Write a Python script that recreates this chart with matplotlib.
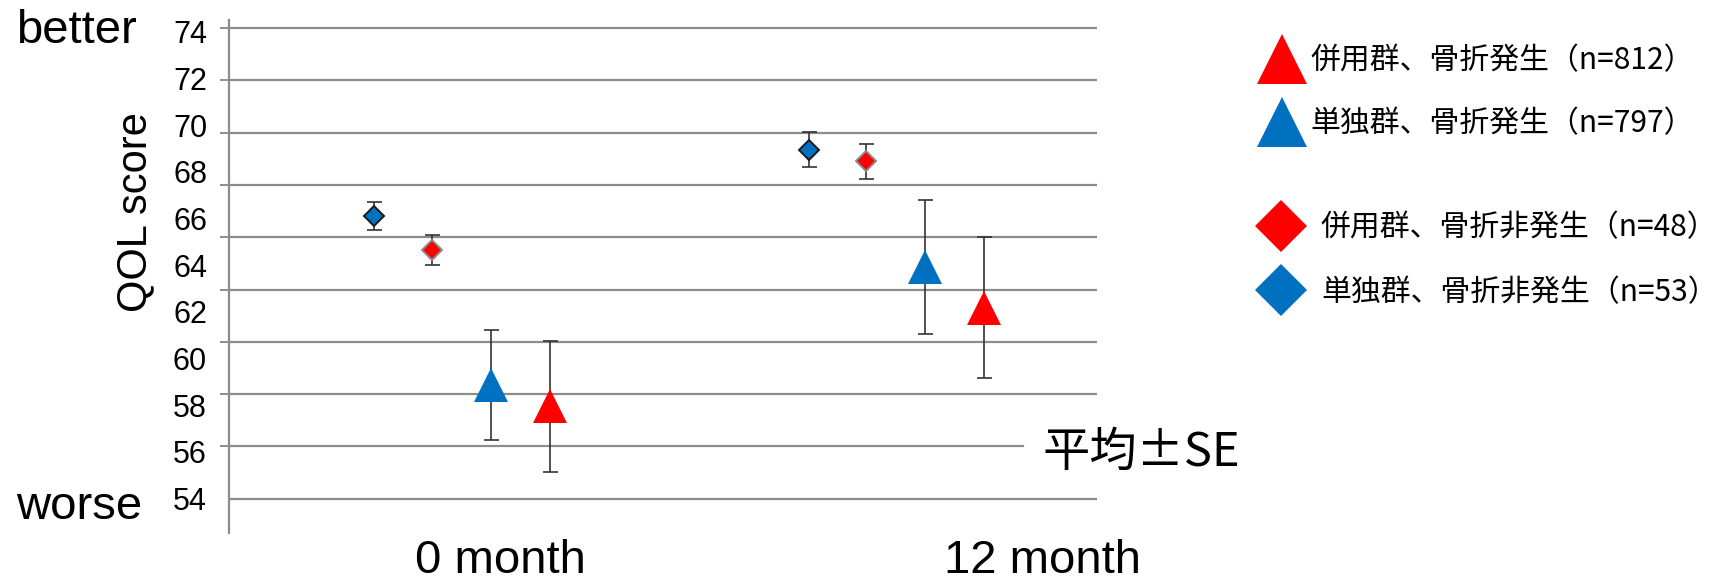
import numpy as np
import matplotlib.pyplot as plt
from matplotlib.lines import Line2D

# values (mean +- SE)
months = ['0 month', '12 month']
y_ticks = [54, 56, 58, 60, 62, 64, 66, 68, 70, 72, 74]

mean_blue_nonfx = [66.11, 68.94]   # 単独群、骨折非発生
se_blue_nonfx = [0.59, 0.74]
mean_red_nonfx = [64.66, 68.44]    # 併用群、骨折非発生
se_red_nonfx = [0.64, 0.75]
mean_blue_fx = [58.86, 63.94]      # 単独群、骨折発生
se_blue_fx = [2.36, 2.87]
mean_red_fx = [57.95, 62.18]       # 併用群、骨折発生
se_red_fx = [2.81, 3.03]

lab_red_fx = '併用群、骨折発生（n=812）'
lab_blue_fx = '単独群、骨折発生（n=797）'
lab_red_nonfx = '併用群、骨折非発生（n=48）'
lab_blue_nonfx = '単独群、骨折非発生（n=53）'

RED = '#ff0000'
BLUE = '#0070c0'
GRID = '#8c8c8c'
CJK = ['Noto Sans CJK JP', 'DejaVu Sans']
LAT = ['Liberation Sans', 'DejaVu Sans']

W, H = 1715, 581
fig = plt.figure(figsize=(W / 100, H / 100), dpi=100)
ax = fig.add_axes([228.6 / W, 1 - 533 / H, 868.4 / W, 513.3 / H])

ax.set_xlim(0, 2)
ax.set_ylim(52.53, 74.51)

# horizontal grid (spacing in the picture is not the label spacing)
grid_vals = np.linspace(54, 74.15, 10)
for i, g in enumerate(grid_vals):
    xmax = 0.915 if i == 1 else 1.0
    ax.axhline(g, xmin=0, xmax=xmax, color=GRID, lw=1.6, zorder=1)

ax.set_yticks(y_ticks)
ax.set_yticklabels([str(v) for v in y_ticks], fontsize=22, family=LAT)
ax.tick_params(axis='y', which='major', length=0, pad=15.5)
ax.set_yticks(grid_vals, minor=True)
ax.tick_params(axis='y', which='minor', length=6.5, width=1.4, color=GRID)
ax.set_xticks([])

for side in ['top', 'right', 'bottom']:
    ax.spines[side].set_visible(False)
ax.spines['left'].set_color(GRID)
ax.spines['left'].set_linewidth(1.6)

x = np.arange(len(months)) + 0.5
err_kw = dict(fmt='none', ecolor='#333333', elinewidth=1.2, capsize=5.4, capthick=1.2, zorder=3)

series = [
    (x - 0.164, mean_blue_nonfx, se_blue_nonfx, 'D', 10.5, BLUE, '#1a1a1a', 1.4),
    (x - 0.031, mean_red_nonfx, se_red_nonfx, 'D', 10.5, RED, '#8a8a8a', 1.4),
    (x + 0.105, mean_blue_fx, se_blue_fx, '^', 24, BLUE, BLUE, 0),
    (x + 0.240, mean_red_fx, se_red_fx, '^', 24, RED, RED, 0),
]
for xs, m, se, mk, ms, fc, ec, ew in series:
    ax.errorbar(xs, m, yerr=se, **err_kw)
    ax.plot(xs, m, ls='none', marker=mk, ms=ms, mfc=fc, mec=ec, mew=ew, zorder=4)

# text around the plot
fig.text(16 / W, 1 - 31 / H, 'better', fontsize=34, family=LAT, ha='left', va='center')
fig.text(16 / W, 1 - 507 / H, 'worse', fontsize=34, family=LAT, ha='left', va='center')
fig.text(135 / W, 1 - 212 / H, 'QOL score', fontsize=30, family=LAT, rotation=90,
         ha='center', va='center')
for m, cx in zip(months, [500, 1043]):
    fig.text(cx / W, 1 - 561 / H, m, fontsize=34, family=LAT, ha='center', va='center')
fig.text(1043 / W, 1 - 453 / H, '平均±SE', fontsize=34, family=CJK, ha='left', va='center')

# legends
tri_handles = [Line2D([], [], ls='none', marker='^', ms=36, mfc=RED, mec=RED, mew=0),
               Line2D([], [], ls='none', marker='^', ms=36, mfc=BLUE, mec=BLUE, mew=0)]
fig.legend(tri_handles, [lab_red_fx, lab_blue_fx], loc='upper left',
           bbox_to_anchor=(1258 / W, 1 - 45 / H), frameon=False, borderpad=0,
           borderaxespad=0, handlelength=1.6, handletextpad=0.15, labelspacing=1.09,
           prop=dict(family=CJK, size=21.5))
dia_handles = [Line2D([], [], ls='none', marker='D', ms=26.5, mfc=RED, mec=RED, mew=0),
               Line2D([], [], ls='none', marker='D', ms=26.5, mfc=BLUE, mec=BLUE, mew=0)]
fig.legend(dia_handles, [lab_red_nonfx, lab_blue_nonfx], loc='upper left',
           bbox_to_anchor=(1257 / W, 1 - 212 / H), frameon=False, borderpad=0,
           borderaxespad=0, handlelength=1.6, handletextpad=0.54, labelspacing=1.13,
           prop=dict(family=CJK, size=21.5))

fig.savefig('out.png', dpi=100, facecolor='white')
